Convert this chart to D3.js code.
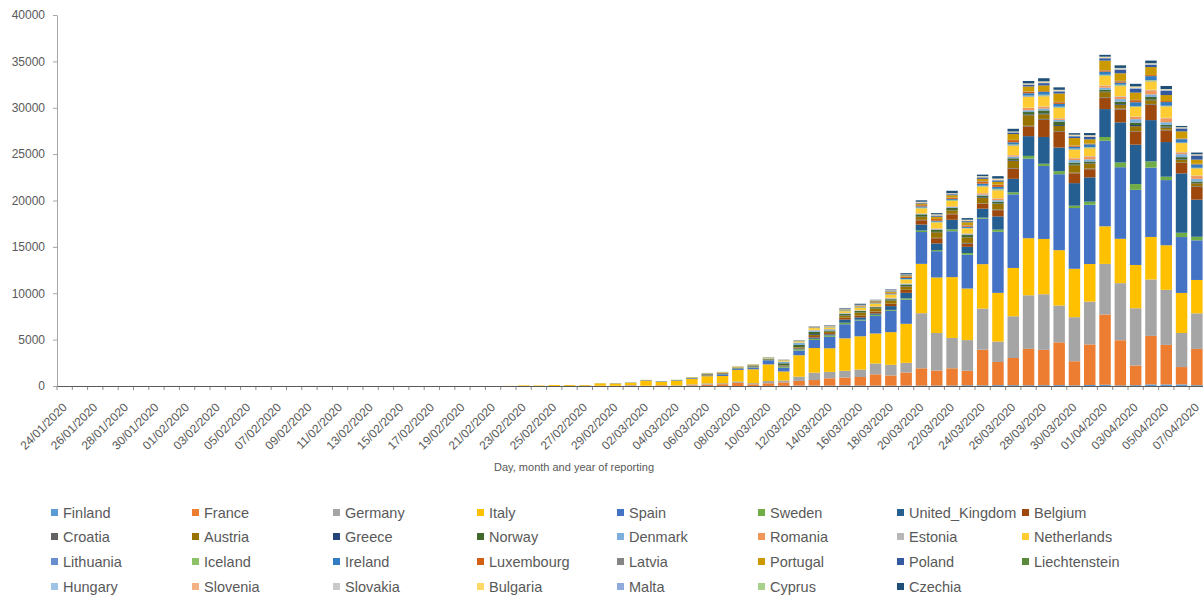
<!DOCTYPE html>
<html><head><meta charset="utf-8">
<script src="https://cdn.jsdelivr.net/npm/d3@7"></script>
<style>
body{margin:0;background:#fff;}
svg{display:block;font-family:"Liberation Sans",Arial,sans-serif;}
</style>
</head><body>
<svg id="chart" width="1203" height="599"></svg>
<script>
// ---------- DATA ----------
const dates = [
"24/01/2020","25/01/2020","26/01/2020","27/01/2020","28/01/2020","29/01/2020","30/01/2020","31/01/2020",
"01/02/2020","02/02/2020","03/02/2020","04/02/2020","05/02/2020","06/02/2020","07/02/2020","08/02/2020","09/02/2020","10/02/2020",
"11/02/2020","12/02/2020","13/02/2020","14/02/2020","15/02/2020","16/02/2020","17/02/2020","18/02/2020","19/02/2020","20/02/2020",
"21/02/2020","22/02/2020","23/02/2020","24/02/2020","25/02/2020","26/02/2020","27/02/2020","28/02/2020","29/02/2020",
"01/03/2020","02/03/2020","03/03/2020","04/03/2020","05/03/2020","06/03/2020","07/03/2020","08/03/2020","09/03/2020","10/03/2020",
"11/03/2020","12/03/2020","13/03/2020","14/03/2020","15/03/2020","16/03/2020","17/03/2020","18/03/2020","19/03/2020","20/03/2020",
"21/03/2020","22/03/2020","23/03/2020","24/03/2020","25/03/2020","26/03/2020","27/03/2020","28/03/2020","29/03/2020","30/03/2020","31/03/2020",
"01/04/2020","02/04/2020","03/04/2020","04/04/2020","05/04/2020","06/04/2020","07/04/2020"];

const tickLabels = ["24/01/2020","26/01/2020","28/01/2020","30/01/2020","01/02/2020","03/02/2020","05/02/2020","07/02/2020",
"09/02/2020","11/02/2020","13/02/2020","15/02/2020","17/02/2020","19/02/2020","21/02/2020","23/02/2020","25/02/2020","27/02/2020",
"29/02/2020","02/03/2020","04/03/2020","06/03/2020","08/03/2020","10/03/2020","12/03/2020","14/03/2020","16/03/2020","18/03/2020",
"20/03/2020","22/03/2020","24/03/2020","26/03/2020","28/03/2020","30/03/2020","01/04/2020","03/04/2020","05/04/2020","07/04/2020"];

const yTicks = [0,5000,10000,15000,20000,25000,30000,35000,40000];

const countries = ["Finland","France","Germany","Italy","Spain","Sweden","United_Kingdom","Belgium",
"Croatia","Austria","Greece","Norway","Denmark","Romania","Estonia","Netherlands",
"Lithuania","Iceland","Ireland","Luxembourg","Latvia","Portugal","Poland","Liechtenstein",
"Hungary","Slovenia","Slovakia","Bulgaria","Malta","Cyprus","Czechia"];

const colors = ["#5B9BD5","#ED7D31","#A5A5A5","#FFC000","#4472C4","#70AD47","#255E91","#9E480E",
"#636363","#997300","#264478","#43682B","#7CAFDD","#F1975A","#B7B7B7","#FFCD33",
"#698ED0","#8CC168","#327DC2","#D26012","#848484","#CC9A00","#335AA1","#5A8A39",
"#9DC3E6","#F4B183","#C9C9C9","#FFD966","#8FAADC","#A9D18E","#1F4E79"];

const Finland = [0,0,0,0,0,0,1,0,0,0,0, 0,0,0,0,0,0,0,0,0,0,0, 0,0,0,0,0,0,0,0,0,0,0,
0,1,0,0,1,0,3,0,1,6,3,0,4,10,19,50,46,46,70,
47,45,40,52,47,50,60,80,73,92,88,80,86,95,71,109,133,72,92,170,167,169,87];
const France = [0,3,0,0,0,1,0,1,0,0,0, 0,0,0,0,0,5,0,0,0,0,0, 1,0,0,0,0,0,0,0,0,0,0,
2,4,20,19,43,30,61,21,73,138,190,336,177,286,372,497,595,785,838,
924,1210,1097,1404,1861,1617,1847,1559,3838,2499,2929,3922,3809,4611,2599,4376,7578,4861,2116,5233,4267,1873,3912];
const Germany = [0,0,0,0,1,3,0,1,0,0,2, 1,0,0,1,0,0,0,0,2,0,0, 0,0,0,0,0,0,0,0,0,0,0,
2,4,12,6,57,3,28,52,103,143,109,151,129,240,200,455,802,693,733,
800,1174,1144,1042,5940,4049,3276,3311,4438,2200,4500,5780,6000,3965,4751,4615,5453,6156,6174,6082,5936,3677,3834];
const Italy = [0,0,0,0,0,0,0,2,0,0,0, 0,0,0,1,0,0,0,0,0,0,0, 0,0,0,0,0,0,0,14,62,53,97,
93,78,250,238,240,561,347,466,587,769,778,1247,1492,1797,977,2313,2651,2547,3497,
3590,3233,3526,4207,5322,5986,6557,5560,4789,5249,5210,6153,5959,5974,5217,4050,4053,4782,4668,4585,4805,4316,3599];
const Spain = [0,0,0,0,0,0,0,0,1,0,0, 0,0,0,0,0,0,1,0,0,0,0, 0,0,0,0,0,0,0,0,0,0,0,
2,8,2,17,13,39,36,45,57,37,141,100,173,400,400,506,876,1227,1522,
1700,1900,2300,2600,3431,2833,4946,3646,4900,6584,7937,8578,7871,8189,6549,6398,9222,7719,8102,7472,7026,6023,4273];
const Sweden = [0,0,0,0,0,0,0,0,1,0,0, 0,0,0,0,0,0,0,0,0,0,0, 0,0,0,0,0,0,0,0,0,0,0,
1,0,6,1,5,0,1,11,1,36,28,46,61,20,107,145,119,155,159,
88,113,100,139,160,122,204,182,115,237,221,296,240,328,253,328,407,512,621,676,365,466,387];
const United_Kingdom = [0,0,0,0,0,0,0,2,0,0,0, 0,0,1,0,0,1,4,0,0,0,0, 0,0,0,0,0,0,0,0,0,0,0,
4,0,3,5,3,13,4,11,34,29,48,43,67,48,52,83,134,117,342,
251,152,407,600,643,714,1035,665,967,1427,1452,2129,2885,2546,2433,2619,3009,4324,4244,4450,3735,6400,4000];
const Belgium = [0,0,0,0,0,0,0,0,0,0,0, 1,0,0,0,0,0,0,0,0,0,0, 0,0,0,0,0,0,0,0,0,0,0,
0,0,0,0,0,1,6,10,5,60,60,31,39,28,47,85,160,133,197,
172,185,243,309,462,558,586,342,526,668,1100,1049,1850,1702,1063,876,1189,1384,1422,1661,1260,1123,1380];
const Croatia = [0,0,0,0,0,0,0,0,0,0,0, 0,0,0,0,0,0,0,0,0,0,0, 0,0,0,0,0,0,0,0,0,0,1,
2,1,0,2,1,0,2,1,1,0,1,2,3,1,2,5,8,6,11,
7,17,16,24,48,48,53,81,48,71,60,71,97,71,66,79,77,96,44,81,67,66,75];
const Austria = [0,0,0,0,0,0,0,0,0,0,0, 0,0,0,0,0,0,0,0,0,0,0, 0,0,0,0,0,0,0,0,0,0,2,
0,0,1,6,1,4,4,6,13,13,10,19,18,26,51,59,115,151,205,
316,314,314,350,314,600,375,595,600,606,796,1141,500,564,805,529,564,418,531,395,241,276,306];
const Greece = [0,0,0,0,0,0,0,0,0,0,0, 0,0,0,0,0,0,0,0,0,0,0, 0,0,0,0,0,0,0,0,0,0,0,
0,1,2,0,4,0,0,2,2,22,13,0,11,11,16,0,89,0,38,
24,3,31,46,31,40,25,30,71,48,78,71,95,95,62,50,50,82,129,60,94,62,41];
const Norway = [0,0,0,0,0,0,0,0,0,0,0, 0,0,0,0,0,0,0,0,0,0,0, 0,0,0,0,0,0,0,0,0,0,0,
0,1,0,5,9,4,5,8,24,60,44,33,52,65,208,221,252,123,147,
165,156,141,165,243,211,245,224,165,195,181,267,314,374,224,177,218,247,254,298,196,224,150];
const Denmark = [0,0,0,0,0,0,0,0,0,0,0, 0,0,0,0,0,0,0,0,0,0,0, 0,0,0,0,0,0,0,0,0,0,0,
0,0,1,0,1,0,2,1,5,10,3,4,12,54,172,252,127,130,63,
37,21,89,79,63,79,89,94,104,158,179,188,208,176,262,236,207,279,371,274,279,320,292];
const Romania = [0,0,0,0,0,0,0,0,0,0,0, 0,0,0,0,0,0,0,0,0,0,0, 0,0,0,0,0,0,0,0,0,0,0,
0,1,2,0,0,0,0,0,1,0,0,4,6,0,10,1,24,22,20,
11,45,30,14,31,64,59,66,143,186,144,254,186,160,197,308,209,247,244,445,430,193,298];
const Estonia = [0,0,0,0,0,0,0,0,0,0,0, 0,0,0,0,0,0,0,0,0,0,0, 0,0,0,0,0,0,0,0,0,0,0,
0,0,1,0,0,0,0,0,0,1,0,0,8,0,0,11,52,14,36,
36,24,33,25,16,20,23,20,26,35,34,34,44,40,36,40,46,70,42,61,48,50,56];
const Netherlands = [0,0,0,0,0,0,0,0,0,0,0, 0,0,0,0,0,0,0,0,0,0,0, 0,0,0,0,0,0,0,0,0,0,0,
0,0,1,1,5,6,5,20,44,46,60,77,56,61,121,111,190,155,176,
278,292,346,409,534,637,573,545,700,852,1019,1172,1100,1104,884,845,1019,1083,1026,904,1224,952,777];
const Lithuania = [0,0,0,0,0,0,0,0,0,0,0, 0,0,0,0,0,0,0,0,0,0,0, 0,0,0,0,0,0,0,0,0,0,0,
0,0,1,0,0,0,0,0,0,0,0,0,0,0,0,2,3,3,0,
2,3,11,9,14,16,20,26,36,65,51,61,75,49,54,76,38,56,67,71,30,20,30];
const Iceland = [0,0,0,0,0,0,0,0,0,0,0, 0,0,0,0,0,0,0,0,0,0,0, 0,0,0,0,0,0,0,0,0,0,0,
0,0,1,0,1,1,7,8,15,6,8,5,7,20,16,25,17,39,51,
33,30,25,50,80,70,95,20,60,89,64,65,88,73,67,56,89,99,46,69,53,33,35];
const Ireland = [0,0,0,0,0,0,0,0,0,0,0, 0,0,0,0,0,0,0,0,0,0,0, 0,0,0,0,0,0,0,0,0,0,0,
0,0,0,1,0,0,1,4,1,12,5,1,0,13,10,0,27,20,39,
40,68,74,120,126,102,101,121,219,204,235,255,302,294,200,295,325,212,402,424,390,370,365];
const Luxembourg = [0,0,0,0,0,0,0,0,0,0,0, 0,0,0,0,0,0,0,0,0,0,0, 0,0,0,0,0,0,0,0,0,0,0,
0,0,0,0,1,0,0,0,0,2,0,0,0,2,2,2,19,7,26,
38,59,63,138,132,186,128,128,224,224,234,154,78,179,116,65,137,154,219,109,109,58,43];
const Latvia = [0,0,0,0,0,0,0,0,0,0,0, 0,0,0,0,0,0,0,0,0,0,0, 0,0,0,0,0,0,0,0,0,0,0,
0,0,0,0,0,1,0,0,0,0,1,1,3,2,3,2,7,9,3,
4,8,11,25,25,13,15,41,41,24,23,24,17,42,29,22,30,52,34,16,9,26,15];
const Portugal = [0,0,0,0,0,0,0,0,0,0,0, 0,0,0,0,0,0,0,0,0,0,0, 0,0,0,0,0,0,0,0,0,0,0,
0,0,0,0,0,0,2,2,1,4,8,8,9,9,11,18,19,34,57,
76,86,117,120,143,235,260,320,250,302,633,549,600,902,792,446,1035,808,783,852,638,754,452];
const Poland = [0,0,0,0,0,0,0,0,0,0,0, 0,0,0,0,0,0,0,0,0,0,0, 0,0,0,0,0,0,0,0,0,0,0,
0,0,0,0,0,0,0,1,0,4,0,6,6,5,6,17,20,17,36,
47,27,53,47,70,111,99,115,152,150,161,170,249,224,193,256,243,392,437,244,475,311,435];
const Liechtenstein = [0,0,0,0,0,0,0,0,0,0,0, 0,0,0,0,0,0,0,0,0,0,0, 0,0,0,0,0,0,0,0,0,0,0,
0,0,0,0,0,0,0,1,0,0,0,0,0,0,0,1,2,1,2,
1,0,2,4,3,2,5,5,5,4,5,5,5,6,2,2,3,3,2,3,0,1,0];
const Hungary = [0,0,0,0,0,0,0,0,0,0,0, 0,0,0,0,0,0,0,0,0,0,0, 0,0,0,0,0,0,0,0,0,0,0,
0,0,0,0,0,0,0,2,0,0,2,3,0,0,4,3,3,0,11,
7,11,11,8,23,18,28,36,20,37,35,35,39,65,39,45,33,33,60,55,55,26,27];
const Slovenia = [0,0,0,0,0,0,0,0,0,0,0, 0,0,0,0,0,0,0,0,0,0,0, 0,0,0,0,0,0,0,0,0,0,0,
0,0,0,0,0,0,0,1,0,2,5,4,4,7,9,34,39,42,34,
34,34,34,11,30,45,27,31,28,34,24,48,52,32,46,54,39,27,43,36,20,23,36];
const Slovakia = [0,0,0,0,0,0,0,0,0,0,0, 0,0,0,0,0,0,0,0,0,0,0, 0,0,0,0,0,0,0,0,0,0,0,
0,0,0,0,0,0,0,0,0,1,0,2,0,4,0,3,11,11,11,
11,9,8,8,20,41,14,13,19,31,12,12,23,22,23,28,23,37,26,14,35,14,19];
const Bulgaria = [0,0,0,0,0,0,0,0,0,0,0, 0,0,0,0,0,0,0,0,0,0,0, 0,0,0,0,0,0,0,0,0,0,0,
0,0,0,0,0,0,0,0,0,0,0,0,4,0,2,1,0,16,9,
16,11,30,11,30,30,25,38,36,57,22,30,38,29,47,34,40,26,42,26,28,46,31];
const Malta = [0,0,0,0,0,0,0,0,0,0,0, 0,0,0,0,0,0,0,0,0,0,0, 0,0,0,0,0,0,0,0,0,0,0,
0,0,0,0,0,0,0,0,0,0,3,1,0,0,2,3,3,12,2,
3,8,11,10,10,11,15,17,17,17,10,21,15,10,12,17,13,32,14,11,14,15,14];
const Cyprus = [0,0,0,0,0,0,0,0,0,0,0, 0,0,0,0,0,0,0,0,0,0,0, 0,0,0,0,0,0,0,0,0,0,0,
0,0,0,0,0,0,0,0,0,0,0,0,2,0,0,4,0,0,13,
5,12,12,9,17,5,9,20,21,27,10,16,30,18,10,16,30,32,58,30,26,19,19];
const Czechia = [0,0,0,0,0,0,0,0,0,0,0, 0,0,0,0,0,0,0,0,0,0,0, 0,0,0,0,0,0,0,0,0,0,0,
0,0,0,0,0,0,3,2,0,7,7,5,7,9,23,33,30,47,64,
106,45,84,130,150,125,253,170,159,253,284,257,327,260,157,227,192,275,265,278,324,131,180];

const seriesValues = [Finland,France,Germany,Italy,Spain,Sweden,United_Kingdom,Belgium,
Croatia,Austria,Greece,Norway,Denmark,Romania,Estonia,Netherlands,
Lithuania,Iceland,Ireland,Luxembourg,Latvia,Portugal,Poland,Liechtenstein,
Hungary,Slovenia,Slovakia,Bulgaria,Malta,Cyprus,Czechia];

// ---------- BUILD ----------
const table = dates.map((d,i)=>{
  const row = {date:d};
  countries.forEach((c,k)=>{ row[c] = seriesValues[k][i] || 0; });
  return row;
});

const svg = d3.select("#chart");
const X0 = 57, X1 = 1204.5, Y0 = 386, Y1 = 15;

const x = d3.scaleBand().domain(dates).range([X0, X1]).paddingInner(0.25).paddingOuter(0.125);
const y = d3.scaleLinear().domain([0, 40000]).range([Y0, Y1]);
const color = d3.scaleOrdinal().domain(countries).range(colors);

const stacked = d3.stack().keys(countries)(table);

svg.append("g").selectAll("g").data(stacked).join("g")
  .attr("fill", d => color(d.key))
  .selectAll("rect").data(d => d).join("rect")
  .attr("x", d => x(d.data.date))
  .attr("width", x.bandwidth())
  .attr("y", d => y(d[1]))
  .attr("height", d => Math.max(0, y(d[0]) - y(d[1])));

// Y axis
const yAxis = svg.append("g").attr("transform", `translate(${X0},0)`)
  .call(d3.axisLeft(y).tickValues(yTicks).tickFormat(d3.format("d")).tickSize(4).tickPadding(8).tickSizeOuter(0));
yAxis.select(".domain").attr("stroke", "#a6a6a6");
yAxis.selectAll(".tick line").attr("stroke", "#a6a6a6");
yAxis.selectAll(".tick text").attr("fill", "#595959").style("font-size", "12px");

// X axis: category boundary ticks
const step = x.step();
const xStart = x.range()[0];
svg.append("g").selectAll("line").data(d3.range(dates.length + 1)).join("line")
  .attr("x1", i => xStart + i * step).attr("x2", i => xStart + i * step)
  .attr("y1", Y0).attr("y2", Y0 + 4)
  .attr("stroke", "#8c8c8c").attr("stroke-width", 1);

const xAxis = svg.append("g").attr("transform", `translate(0,${Y0})`)
  .call(d3.axisBottom(x).tickValues(tickLabels).tickSize(0).tickSizeOuter(0));
xAxis.select(".domain").attr("stroke", "#595959").attr("stroke-width", 1.2);
xAxis.selectAll(".tick text")
  .attr("fill", "#595959").style("font-size", "12px")
  .attr("text-anchor", "end")
  .attr("x", 0).attr("y", 0).attr("dy", 0)
  .attr("transform", "translate(3,22) rotate(-45)");

// Axis title
svg.append("text").attr("x", 574).attr("y", 471).attr("text-anchor", "middle")
  .attr("fill", "#595959").style("font-size", "11px")
  .text("Day, month and year of reporting");

// Legend
const legendX = [55, 196, 337, 481, 621, 762, 901, 1026];
const legendY = [513, 537, 562, 587];
const leg = svg.append("g").selectAll("g").data(countries).join("g")
  .attr("transform", (d,i) => `translate(${legendX[i % 8]},${legendY[Math.floor(i / 8)]})`);
leg.append("rect").attr("x", -4).attr("y", -4).attr("width", 7).attr("height", 7).attr("fill", d => color(d));
leg.append("text").attr("x", 8).attr("y", 0).attr("dy", "0.36em")
  .attr("fill", "#595959").style("font-size", "14.5px").text(d => d);
</script>
</body></html>
